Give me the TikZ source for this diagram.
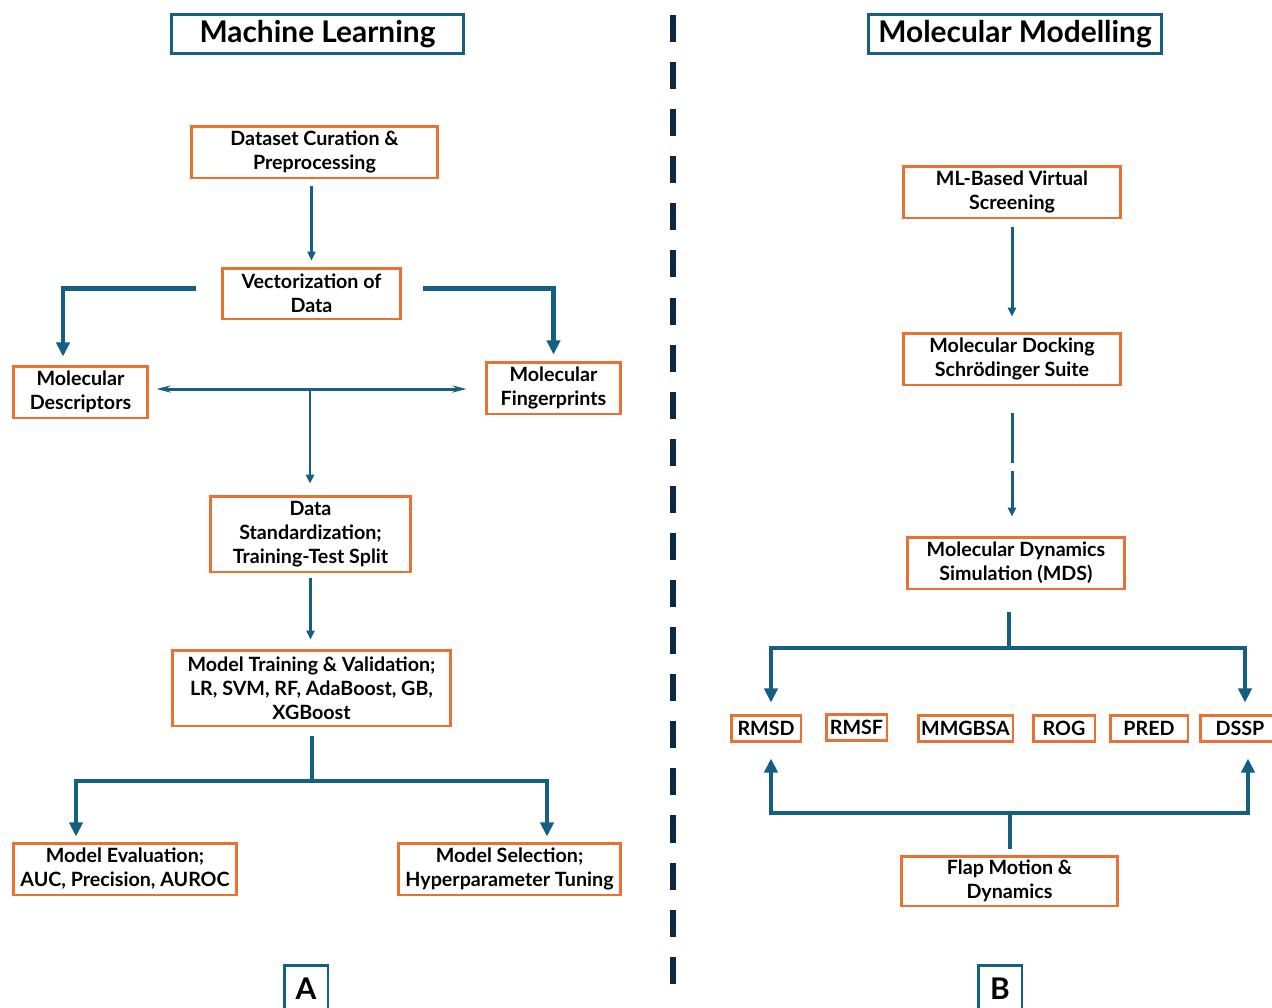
\documentclass[tikz,border=0pt]{standalone}
\usepackage{fontspec}
\setmainfont{Lato}
\usetikzlibrary{arrows.meta}
\definecolor{mmBlue}{HTML}{156082}
\definecolor{mmOrange}{HTML}{E97132}
\definecolor{mmNavy}{HTML}{0E2841}

\begin{document}
\begin{tikzpicture}[x=0.02cm, y=-0.02cm,
    stepbox/.style={draw=mmOrange, line width=1.7pt, fill=white, align=center, inner sep=1pt,
        font=\fontsize{11.2}{13.7}\selectfont\bfseries},
    metricbox/.style={stepbox, minimum height=0.52cm},
    titlebox/.style={draw=mmBlue, line width=1.7pt, fill=white, align=center,
        font=\fontsize{17}{19}\selectfont\bfseries},
    thinarrow/.style={draw=mmBlue, line width=1.7pt, -{Triangle[length=5pt,width=4.5pt]}},
    thinline/.style={draw=mmBlue, line width=1.7pt},
    twoway/.style={draw=mmBlue, line width=1.7pt, {Stealth[length=8pt,width=4pt]}-{Stealth[length=8pt,width=4pt]}},
    thickline/.style={draw=mmBlue, line width=2.4pt},
    thickarrow/.style={thickline, -{Triangle[length=8pt,width=7.5pt]}},
    ]
    \clip (0,0) rectangle (1272,1008);
    \draw[mmNavy, line width=3.4pt, dash pattern=on 15.4pt off 11.4pt] (673,15) -- (673,1000);

    \node[titlebox, minimum width=5.86cm, minimum height=0.72cm] (mltitle) at (317.5,34) {Machine Learning};
    \node[titlebox, minimum width=5.88cm, minimum height=0.72cm] (mmtitle) at (1015,34) {Molecular Modelling};

    % machine learning side
    \node[stepbox, minimum width=4.94cm, minimum height=1.04cm] (dataset) at (314.5,152) {Dataset Curation \&\\Preprocessing};
    \node[stepbox, minimum width=3.58cm, minimum height=1.02cm] (vector) at (311.5,293.5) {Vectorization of\\Data};
    \node[stepbox, minimum width=2.70cm, minimum height=1.04cm] (moldesc) at (80.5,392) {Molecular\\Descriptors};
    \node[stepbox, minimum width=2.70cm, minimum height=1.04cm] (molfp) at (553.5,388) {Molecular\\Fingerprints};
    \node[stepbox, minimum width=4.02cm, minimum height=1.52cm] (datastd) at (310.5,534) {Data\\Standardization;\\Training-Test Split};
    \node[stepbox, minimum width=5.58cm, minimum height=1.52cm] (modeltrain) at (311.5,688) {Model Training \& Validation;\\LR, SVM, RF, AdaBoost, GB,\\XGBoost};
    \node[stepbox, minimum width=4.48cm, minimum height=1.04cm] (modeleval) at (125,869) {Model Evaluation;\\AUC, Precision, AUROC};
    \node[stepbox, minimum width=4.46cm, minimum height=1.04cm] (modelsel) at (509.5,869) {Model Selection;\\Hyperparameter Tuning};
    \node[titlebox, minimum width=0.88cm, minimum height=0.96cm] (panelA) at (306,989) {A};

    \coordinate (hub) at (310,389);
    \coordinate (split) at (312,781);

    \draw[thinarrow, shorten <=0.14cm, shorten >=0.12cm] (dataset.south -| vector.north) -- (vector.north);
    \draw[thickarrow, shorten <=0.5cm, shorten >=0.16cm] ([yshift=0.1cm]vector.west) -| ([xshift=-0.35cm]moldesc.north);
    \draw[thickarrow, shorten <=0.42cm, shorten >=0.12cm] ([yshift=0.1cm]vector.east) -| (molfp.north);
    \draw[twoway, shorten <=0.14cm, shorten >=0.36cm] (hub -| moldesc.east) -- (hub -| molfp.west);
    \draw[thinarrow, shorten >=0.22cm] (hub) -- (hub |- datastd.north);
    \draw[thinarrow, shorten <=0.1cm, shorten >=0.18cm] (datastd.south) -- (datastd.south |- modeltrain.north);
    \draw[thickline, shorten <=0.18cm] (split |- modeltrain.south) -- (split);
    \draw[thickarrow, shorten >=0.1cm] (split) -| ([xshift=-0.98cm]modeleval.north);
    \draw[thickarrow, shorten >=0.1cm] (split) -| ([xshift=0.75cm]modelsel.north);

    % molecular modelling side
    \node[stepbox, minimum width=4.36cm, minimum height=1.04cm] (mlvs) at (1012,192) {ML-Based Virtual\\Screening};
    \node[stepbox, minimum width=4.36cm, minimum height=1.04cm] (docking) at (1012,359) {Molecular Docking\\Schrödinger Suite};
    \node[stepbox, minimum width=4.36cm, minimum height=1.04cm] (mds) at (1016,563) {Molecular Dynamics\\Simulation (MDS)};
    \node[metricbox, minimum width=1.40cm] (rmsd) at (766,728) {RMSD};
    \node[metricbox, minimum width=1.22cm] (rmsf) at (856.5,727) {RMSF};
    \node[metricbox, minimum width=1.90cm] (mmgbsa) at (965.5,728) {MMGBSA};
    \node[metricbox, minimum width=1.24cm] (rog) at (1064,728) {ROG};
    \node[metricbox, minimum width=1.56cm] (pred) at (1149,728) {PRED};
    \node[metricbox, minimum width=1.60cm] (dssp) at (1240,728) {DSSP};
    \node[stepbox, minimum width=4.34cm, minimum height=1.0cm] (flap) at (1009.5,881) {Flap Motion \&\\Dynamics};
    \node[titlebox, minimum width=0.88cm, minimum height=0.96cm] (panelB) at (1000,989) {B};

    \coordinate (gap) at (1012,467);
    \coordinate (fork) at (1009,648);
    \coordinate (join) at (1010,813);

    \draw[thinarrow, shorten <=0.16cm, shorten >=0.3cm] (mlvs.south) -- (docking.north);
    \draw[thinline, shorten <=0.54cm, shorten >=0.08cm] (docking.south) -- (gap);
    \draw[thinarrow, shorten <=0.08cm, shorten >=0.38cm] (gap) -- (gap |- mds.north);
    \draw[thickline, shorten <=0.44cm] (fork |- mds.south) -- (fork);
    \draw[thickarrow, shorten >=0.22cm] (fork) -| ([xshift=0.1cm]rmsd.north);
    \draw[thickarrow, shorten >=0.22cm] (fork) -| ([xshift=0.1cm]dssp.north);
    \draw[thickline, shorten <=0.12cm] (join |- flap.north) -- (join);
    \draw[thickarrow, shorten >=0.32cm] (join) -| ([xshift=0.1cm]rmsd.south);
    \draw[thickarrow, shorten >=0.32cm] (join) -| ([xshift=0.16cm]dssp.south);
\end{tikzpicture}
\end{document}
